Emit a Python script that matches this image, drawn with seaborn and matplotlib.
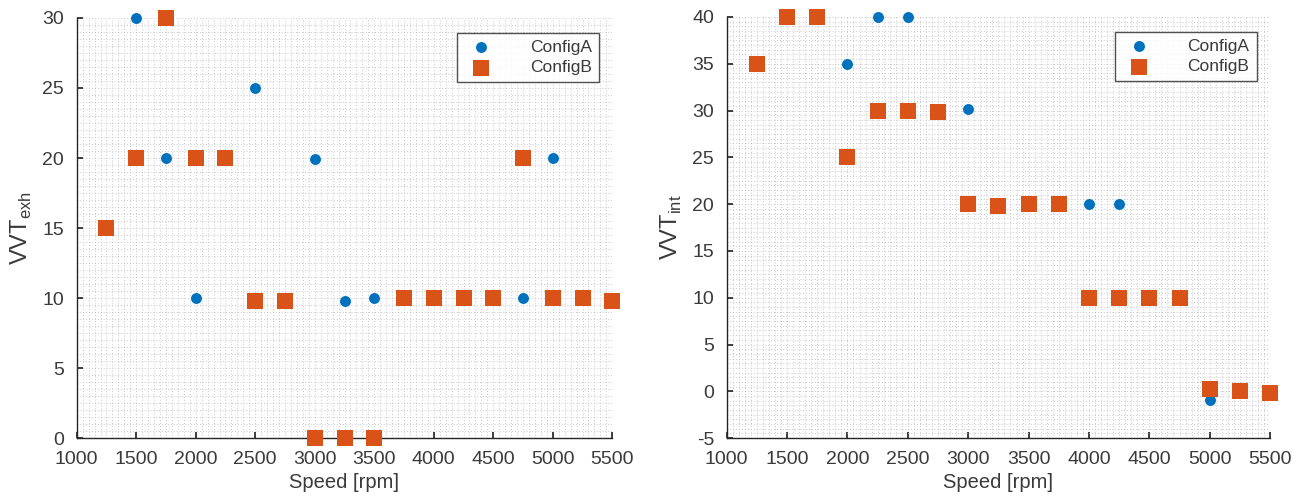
import numpy as np
import pandas as pd
import matplotlib
matplotlib.use("Agg")
import matplotlib.pyplot as plt
import seaborn as sns
from matplotlib.ticker import MultipleLocator

# --- data ---
exh_a_speed = [1500, 1750, 2000, 2500, 3000, 3250, 3500, 4750, 5000]
exh_a_vvt = [30, 20, 10, 25, 19.9, 9.8, 10, 10, 20]
exh_b_speed = [1250, 1500, 1750, 2000, 2250, 2500, 2750, 3000, 3250, 3500,
               3750, 4000, 4250, 4500, 4750, 5000, 5250, 5500]
exh_b_vvt = [15, 20, 30, 20, 20, 9.8, 9.8, 0, 0, 0,
             10, 10, 10, 10, 20, 10, 10, 9.8]

int_a_speed = [2000, 2250, 2500, 3000, 4000, 4250, 5000]
int_a_vvt = [35, 40, 40, 30.2, 20, 20, -0.9]
int_b_speed = [1250, 1500, 1750, 2000, 2250, 2500, 2750, 3000, 3250, 3500,
               3750, 4000, 4250, 4500, 4750, 5000, 5250, 5500]
int_b_vvt = [35, 40, 40, 25, 30, 30, 29.8, 20, 19.8, 20,
             20, 10, 10, 10, 10, 0.2, 0, -0.2]

series_names = ["ConfigA", "ConfigB"]
x_ticks = [1000, 1500, 2000, 2500, 3000, 3500, 4000, 4500, 5000, 5500]

def make_df(sa, va, sb, vb):
    return pd.DataFrame({
        "speed": list(sa) + list(sb),
        "vvt": list(va) + list(vb),
        "config": [series_names[0]] * len(sa) + [series_names[1]] * len(sb),
    })

df_exh = make_df(exh_a_speed, exh_a_vvt, exh_b_speed, exh_b_vvt)
df_int = make_df(int_a_speed, int_a_vvt, int_b_speed, int_b_vvt)

sns.set_theme(style="white")
plt.rcParams["font.family"] = ["Liberation Sans", "DejaVu Sans"]
plt.rcParams["mathtext.fontset"] = "custom"
plt.rcParams["mathtext.rm"] = "Liberation Sans"
plt.rcParams["axes.unicode_minus"] = False

palette = {"ConfigA": "#0072BD", "ConfigB": "#D95319"}
markers = {"ConfigA": "o", "ConfigB": "s"}
sizes = {"ConfigA": 62, "ConfigB": 125}

fig = plt.figure(figsize=(13, 4.99), dpi=100)
ax1 = fig.add_axes([0.059, 0.122, 0.412, 0.842])
ax2 = fig.add_axes([0.559, 0.122, 0.418, 0.844])

txt = "#3a3a3a"

def draw(ax, df, ylim, ymajor, ylabel):
    for name in series_names:
        sub = df[df["config"] == name]
        sns.scatterplot(data=sub, x="speed", y="vvt", ax=ax, color=palette[name],
                        marker=markers[name], s=sizes[name], linewidth=0,
                        label=name, zorder=3, clip_on=False)
    ax.set_xlim(1000, 5500)
    ax.set_ylim(*ylim)
    ax.set_xticks(x_ticks)
    ax.yaxis.set_major_locator(MultipleLocator(ymajor))
    ax.xaxis.set_minor_locator(MultipleLocator(50))
    ax.yaxis.set_minor_locator(MultipleLocator(ymajor / 10))
    ax.grid(which="both", linestyle=(0, (1, 2.5)), color="#b8b8b8", linewidth=0.6)
    ax.set_axisbelow(True)
    for s in ["top", "right"]:
        ax.spines[s].set_visible(False)
    for s in ["left", "bottom"]:
        ax.spines[s].set_color("#262626")
        ax.spines[s].set_linewidth(1.0)
    ax.tick_params(axis="both", which="major", direction="in", length=4,
                   color="#262626", labelsize=14, labelcolor=txt,
                   left=True, bottom=True, pad=9)
    ax.tick_params(which="minor", length=0)
    ax.set_xlabel("Speed [rpm]", fontsize=14.5, color=txt, labelpad=4)
    ax.set_ylabel(ylabel, fontsize=17, color=txt, labelpad=6)
    leg = ax.legend(loc="upper right", bbox_to_anchor=(0.975, 0.965),
                    fontsize=12.5, frameon=True, fancybox=False,
                    borderpad=0.4, handletextpad=1.8, labelspacing=0.3,
                    markerscale=1.0, borderaxespad=0)
    leg.get_frame().set_edgecolor("#262626")
    leg.get_frame().set_linewidth(1.0)
    for t in leg.get_texts():
        t.set_color(txt)

draw(ax1, df_exh, (0, 30), 5, r"VVT$_{\mathrm{exh}}$")
draw(ax2, df_int, (-5, 40), 5, r"VVT$_{\mathrm{int}}$")

fig.savefig("out.png", dpi=100)
